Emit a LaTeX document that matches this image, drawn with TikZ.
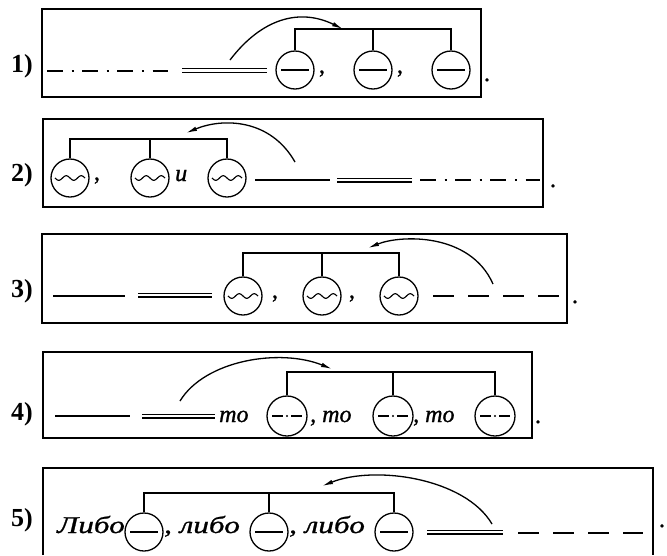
\documentclass[tikz,border=0pt]{standalone}
\usepackage{fontspec}
\setmainfont{Liberation Serif}
\newfontfamily\heavyfont{Liberation Serif}[FakeBold=1.1]
\newfontfamily\widefont{Liberation Serif}[FakeStretch=1.3,FakeBold=1.1]
\usetikzlibrary{arrows.meta}
\tikzset{
  ln/.style={line width=1.3pt},
  boxln/.style={line width=1.6pt},
  dbl/.style={double, double distance=2.6pt, line width=1.2pt},
  dashdotln/.style={line width=1.4pt, dash pattern=on 16pt off 8.5pt on 2.2pt off 8.5pt},
  dashln/.style={line width=1.4pt, dash pattern=on 21pt off 14pt},
  circ/.style={circle, draw, line width=1.3pt, minimum size=38pt, inner sep=0pt},
  hl/.style={path picture={\draw[line width=1.3pt] ([xshift=-14pt]path picture bounding box.center) -- ([xshift=14pt]path picture bounding box.center);}},
  wv/.style={path picture={\draw[line width=1.1pt, shift={(path picture bounding box.center)}] plot[domain=-15:15, samples=60, smooth] (\x, {2.3*sin(\x*24)});}},
  dd/.style={path picture={\draw[line width=1.2pt, shift={(path picture bounding box.center)}] (-15,0) -- (-4,0) (4,0) -- (15,0);
     \fill[shift={(path picture bounding box.center)}] (0,0) circle (1.2pt);}},
  arr/.style={line width=1.3pt, -{Latex[length=11pt,width=4.5pt]}},
  lbl/.style={font=\fontsize{26}{30}\selectfont\bfseries, inner sep=0pt, anchor=base west},
  txt/.style={font=\fontsize{24}{28}\selectfont\heavyfont\itshape, inner sep=0pt, anchor=base west},
  wtxt/.style={font=\fontsize{24}{28}\selectfont\widefont\itshape, inner sep=0pt, anchor=base west},
  pnc/.style={font=\fontsize{24}{28}\selectfont\heavyfont, inner sep=0pt, anchor=base},
}
\begin{document}
\begin{tikzpicture}[x=1pt,y=-1pt]
\useasboundingbox (0,0) rectangle (667,555);

% ---------- Row 1 ----------
\draw[boxln] (42,9) rectangle (481,97);
\node[lbl] (l1) at (11,72) {1)};
\draw[dashdotln] (47,71) -- (168,71);
\draw[dbl] (182,70.5) -- (267,70.5);
\node[circ,hl] (c11) at (295,70) {};
\node[circ,hl] (c12) at (373,70) {};
\node[circ,hl] (c13) at (451,70) {};
\node[pnc] (k11) at (322,73) {,};
\node[pnc] (k12) at (400,73) {,};
\coordinate (b1) at (0,29);
\draw[ln] (c11.north) -- (c11.north |- b1) -| (c13.north);
\draw[ln] (c12.north) -- (c12.north |- b1);
\coordinate (s1) at (230,60);
\coordinate (e1) at (343,29);
\draw[arr] (s1) .. controls (262,18) and (300,8) .. (e1);
\node[pnc] (p1) at (487,81) {.};

% ---------- Row 2 ----------
\draw[boxln] (43,119) rectangle (543,207);
\node[lbl] (l2) at (11,181) {2)};
\node[circ,wv] (c21) at (70,178) {};
\node[circ,wv] (c22) at (150,178) {};
\node[circ,wv] (c23) at (227,178) {};
\node[pnc] (k21) at (97,180) {,};
\node[txt] (u2) at (175,181) {и};
\coordinate (b2) at (0,139);
\draw[ln] (c21.north) -- (c21.north |- b2) -| (c23.north);
\draw[ln] (c22.north) -- (c22.north |- b2);
\draw[ln] (255,180) -- (330,180);
\draw[dbl] (337,180) -- (412,180);
\draw[dashdotln] (420,180) -- (540,180);
\coordinate (s2) at (295,162);
\coordinate (e2) at (186,133);
\draw[arr] (s2) .. controls (270,118) and (222,118) .. (e2);
\node[pnc] (p2) at (553,187) {.};

% ---------- Row 3 ----------
\draw[boxln] (42,234) rectangle (567,323);
\node[lbl] (l3) at (11,297) {3)};
\draw[ln] (53,296) -- (125,296);
\draw[dbl] (138,295) -- (212,295);
\node[circ,wv] (c31) at (243,296) {};
\node[circ,wv] (c32) at (322,296) {};
\node[circ,wv] (c33) at (399,296) {};
\node[pnc] (k31) at (275,298) {,};
\node[pnc] (k32) at (352,298) {,};
\coordinate (b3) at (0,253);
\draw[ln] (c31.north) -- (c31.north |- b3) -| (c33.north);
\draw[ln] (c32.north) -- (c32.north |- b3);
\draw[dashln] (433,296) -- (559,296);
\coordinate (s3) at (493,284);
\coordinate (e3) at (368,248);
\draw[arr] (s3) .. controls (470,232) and (400,235) .. (e3);
\node[pnc] (p3) at (575,303) {.};

% ---------- Row 4 ----------
\draw[boxln] (43,352) rectangle (532,438);
\node[lbl] (l4) at (11,420) {4)};
\draw[ln] (55,416) -- (130,416);
\draw[dbl] (142,416) -- (215,416);
\node[txt] (t41) at (219,422) {то};
\node[circ,dd,minimum size=40pt] (c41) at (287,416) {};
\node[txt] (t42) at (310,422) {, то};
\node[circ,dd,minimum size=40pt] (c42) at (393,416) {};
\node[txt] (t43) at (413,422) {, то};
\node[circ,dd,minimum size=40pt] (c43) at (495,416) {};
\coordinate (b4) at (0,372);
\draw[ln] (c41.north) -- (c41.north |- b4) -| (c43.north);
\draw[ln] (c42.north) -- (c42.north |- b4);
\coordinate (s4) at (180,401);
\coordinate (e4) at (332,369);
\draw[arr] (s4) .. controls (205,360) and (280,348) .. (e4);
\node[pnc] (p4) at (538,423) {.};

% ---------- Row 5 ----------
\draw[boxln] (43,555) -- (43,468) -- (653,468) -- (653,555);
\node[lbl] (l5) at (11,526) {5)};
\node[wtxt] (t51) at (57,533) {Либо};
\node[circ,hl] (c51) at (144,532) {};
\node[wtxt] (t52) at (164,533) {, либо};
\node[circ,hl] (c52) at (269,532) {};
\node[wtxt] (t53) at (289,533) {, либо};
\node[circ,hl] (c53) at (394,532) {};
\coordinate (b5) at (0,493);
\draw[ln] (c51.north) -- (c51.north |- b5) -| (c53.north);
\draw[ln] (c52.north) -- (c52.north |- b5);
\draw[dbl] (427,532) -- (503,532);
\draw[dashln] (518,533) -- (643,533);
\coordinate (s5) at (492,524);
\coordinate (e5) at (322,486);
\draw[arr] (s5) .. controls (465,478) and (375,465) .. (e5);
\node[pnc] (p5) at (662,527) {.};
\end{tikzpicture}
\end{document}
